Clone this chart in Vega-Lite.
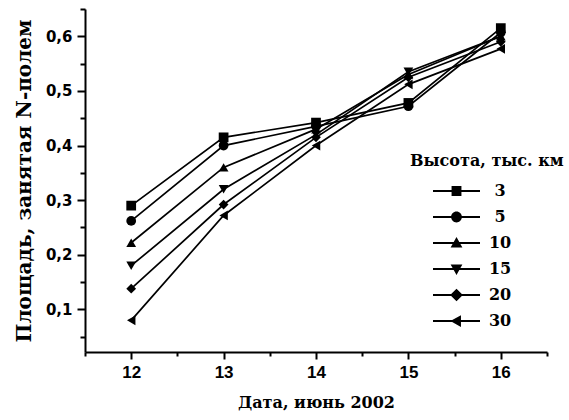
{
  "$schema": "https://vega.github.io/schema/vega-lite/v6.json",
  "width": 462,
  "height": 343,
  "autosize": {"type": "none"},
  "padding": {"left": 85, "top": 9, "right": 22, "bottom": 68},
  "background": "white",
  "config": {
    "view": {"stroke": null},
    "axis": {
      "domainColor": "black",
      "domainWidth": 2,
      "tickColor": "black",
      "tickWidth": 2,
      "grid": false,
      "labelColor": "black",
      "titleColor": "black",
      "labelOverlap": false,
      "labelFlush": false
    }
  },
  "data": {
    "values": [
      {"day": 12, "h": "3", "area": 0.29},
      {"day": 13, "h": "3", "area": 0.415},
      {"day": 14, "h": "3", "area": 0.442},
      {"day": 15, "h": "3", "area": 0.478},
      {"day": 16, "h": "3", "area": 0.615},
      {"day": 12, "h": "5", "area": 0.262},
      {"day": 13, "h": "5", "area": 0.4},
      {"day": 14, "h": "5", "area": 0.435},
      {"day": 15, "h": "5", "area": 0.472},
      {"day": 16, "h": "5", "area": 0.607},
      {"day": 12, "h": "10", "area": 0.222},
      {"day": 13, "h": "10", "area": 0.36},
      {"day": 14, "h": "10", "area": 0.43},
      {"day": 15, "h": "10", "area": 0.53},
      {"day": 16, "h": "10", "area": 0.6},
      {"day": 12, "h": "15", "area": 0.18},
      {"day": 13, "h": "15", "area": 0.32},
      {"day": 14, "h": "15", "area": 0.42},
      {"day": 15, "h": "15", "area": 0.535},
      {"day": 16, "h": "15", "area": 0.6},
      {"day": 12, "h": "20", "area": 0.138},
      {"day": 13, "h": "20", "area": 0.292},
      {"day": 14, "h": "20", "area": 0.415},
      {"day": 15, "h": "20", "area": 0.525},
      {"day": 16, "h": "20", "area": 0.59},
      {"day": 12, "h": "30", "area": 0.08},
      {"day": 13, "h": "30", "area": 0.272},
      {"day": 14, "h": "30", "area": 0.4},
      {"day": 15, "h": "30", "area": 0.512},
      {"day": 16, "h": "30", "area": 0.577}
    ]
  },
  "encoding": {
    "x": {
      "field": "day",
      "type": "quantitative",
      "scale": {"domain": [11.5, 16.5], "nice": false, "zero": false},
      "axis": {
        "title": "Дата, июнь 2002",
        "titleFont": "DejaVu Serif",
        "titleFontSize": 16,
        "titleFontWeight": "bold",
        "titlePadding": 14,
        "values": [11.5, 12, 12.5, 13, 13.5, 14, 14.5, 15, 15.5, 16, 16.5],
        "labelExpr": "datum.value % 1 == 0 ? format(datum.value, 'd') : ''",
        "labelFont": "Liberation Sans",
        "labelFontSize": 17,
        "labelFontWeight": "bold",
        "tickSize": {"expr": "datum.value % 1 == 0 ? 7 : 4"},
        "labelPadding": 5
      }
    },
    "y": {
      "field": "area",
      "type": "quantitative",
      "scale": {"domain": [0.022, 0.65], "nice": false, "zero": false},
      "axis": {
        "title": "Площадь, занятая N-полем",
        "titleFont": "DejaVu Serif",
        "titleFontSize": 20,
        "titleFontWeight": "bold",
        "titlePadding": 11,
        "values": [0.05, 0.1, 0.15, 0.2, 0.25, 0.3, 0.35, 0.4, 0.45, 0.5, 0.55, 0.6, 0.65],
        "labelExpr": "round(datum.value * 100) % 10 == 0 ? replace(format(datum.value, '.1f'), '.', ',') : ''",
        "labelFont": "DejaVu Sans",
        "labelFontSize": 15,
        "labelFontWeight": "bold",
        "tickSize": {"expr": "round(datum.value * 100) % 10 == 0 ? 8 : 5"},
        "labelPadding": 5
      }
    }
  },
  "layer": [
    {
      "mark": {"type": "line", "color": "black", "strokeWidth": 1.7},
      "encoding": {"detail": {"field": "h", "type": "nominal"}}
    },
    {
      "mark": {"type": "point", "filled": true, "color": "black", "opacity": 1, "size": 95},
      "encoding": {
        "shape": {
          "field": "h",
          "type": "nominal",
          "scale": {
            "domain": ["3", "5", "10", "15", "20", "30"],
            "range": ["square", "circle", "triangle-up", "triangle-down", "diamond", "triangle-left"]
          },
          "legend": null
        }
      }
    },
    {
      "mark": {"type": "point", "filled": true, "color": "black", "opacity": 0},
      "encoding": {
        "shape": {
          "field": "h",
          "type": "nominal",
          "scale": {
            "domain": ["3", "5", "10", "15", "20", "30"],
            "range": [
              "M-1,-0.04H1V0.04H-1ZM-0.21,-0.21H0.21V0.21H-0.21Z",
              "M-1,-0.04H1V0.04H-1ZM0.23,0A0.23,0.23,0,1,1,-0.23,0A0.23,0.23,0,1,1,0.23,0Z",
              "M-1,-0.04H1V0.04H-1ZM0,-0.26L0.25,0.19L-0.25,0.19Z",
              "M-1,-0.04H1V0.04H-1ZM0,0.26L-0.25,-0.19L0.25,-0.19Z",
              "M-1,-0.04H1V0.04H-1ZM0,-0.27L0.27,0L0,0.27L-0.27,0Z",
              "M-1,-0.04H1V0.04H-1ZM-0.26,0L0.19,-0.25L0.19,0.25Z"
            ]
          },
          "legend": {
            "orient": "none",
            "legendX": 325,
            "legendY": 144,
            "padding": 0,
            "title": "Высота, тыс. км",
            "titleFont": "DejaVu Serif",
            "titleFontSize": 16,
            "titleFontWeight": "bold",
            "titleColor": "black",
            "titlePadding": 11,
            "labelFont": "DejaVu Serif",
            "labelFontSize": 16,
            "labelFontWeight": "bold",
            "labelColor": "black",
            "labelAlign": "center",
            "labelOffset": 20,
            "symbolOffset": 23,
            "clipHeight": 22,
            "rowPadding": 4,
            "symbolSize": 2209,
            "symbolStrokeWidth": 0,
            "symbolFillColor": "black",
            "symbolStrokeColor": "black",
            "symbolOpacity": 1
          }
        }
      }
    }
  ],
  "resolve": {"scale": {"shape": "independent"}, "legend": {"shape": "independent"}}
}
